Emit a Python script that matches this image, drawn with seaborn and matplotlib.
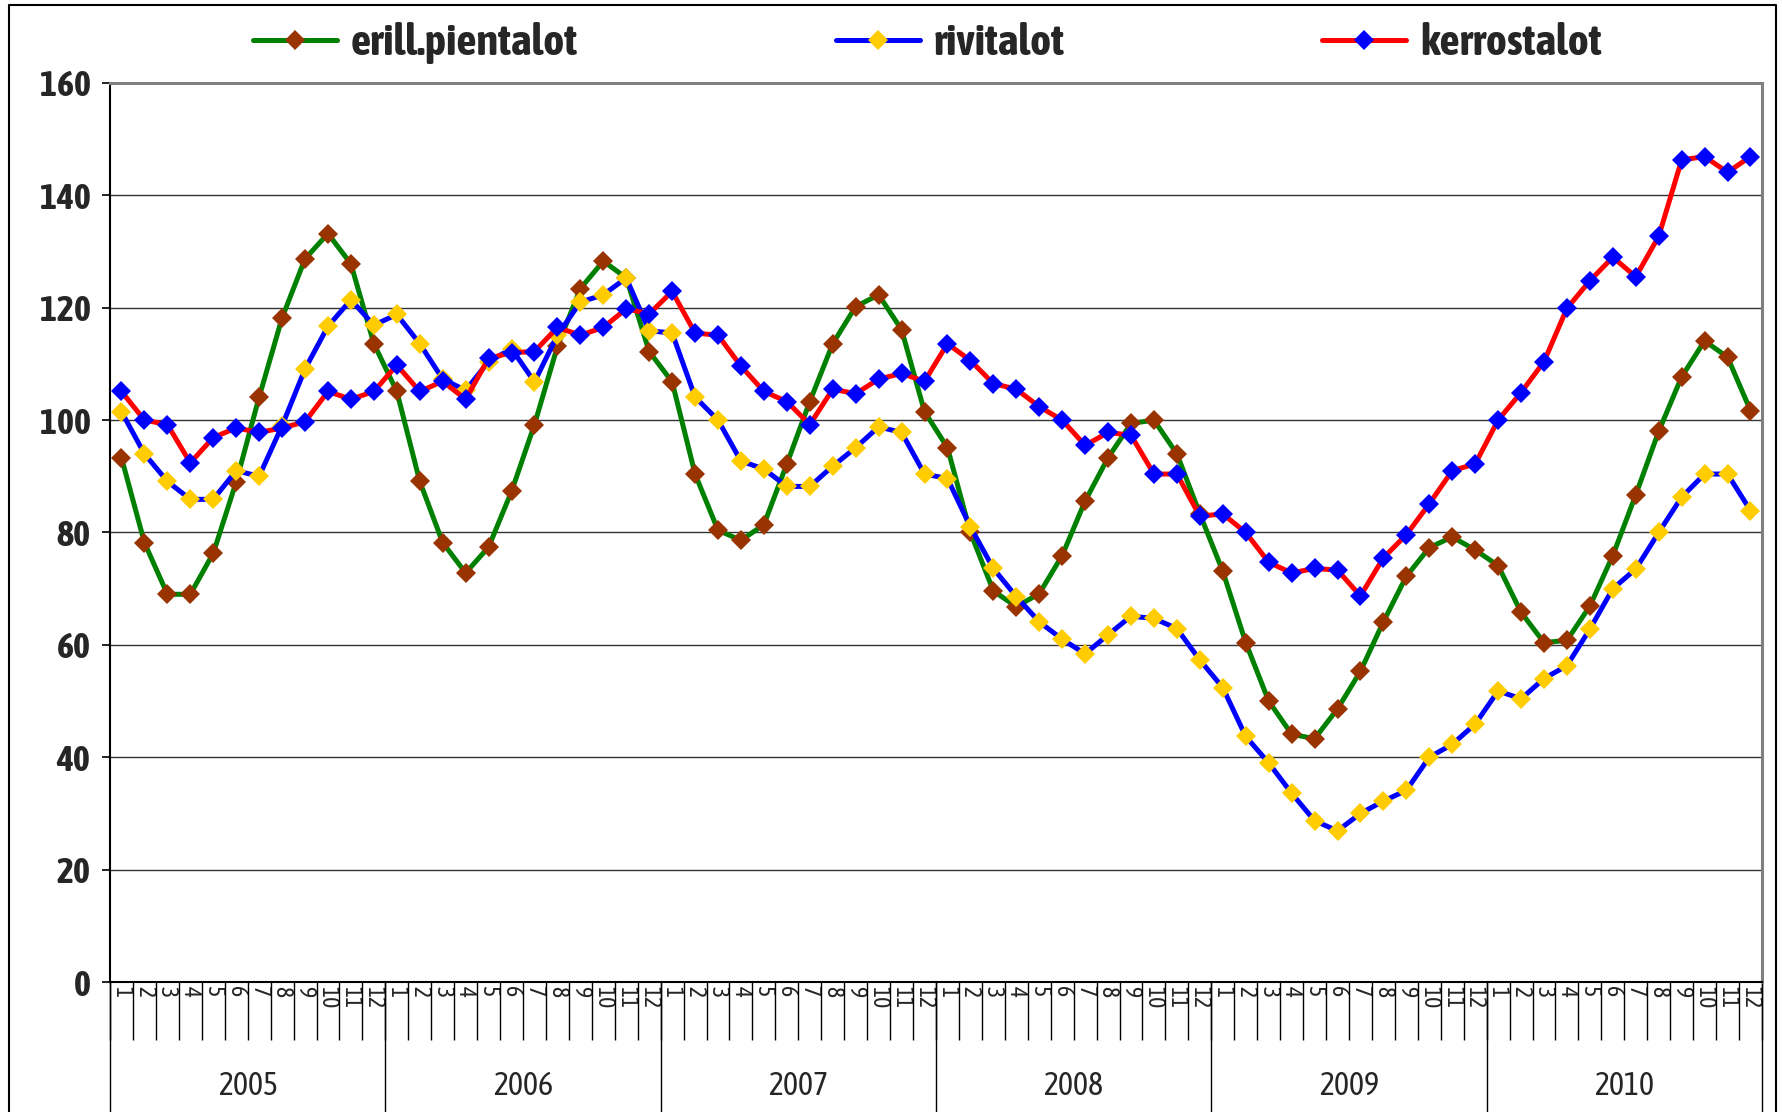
import matplotlib
matplotlib.use("Agg")
import matplotlib.pyplot as plt
from matplotlib.lines import Line2D
import pandas as pd
import seaborn as sns

years = ["2005", "2006", "2007", "2008", "2009", "2010"]
months = [str(m) for m in range(1, 13)]

erill = [93.3, 78.2, 69.0, 69.0, 76.3, 89.0, 104.1, 118.2, 128.7, 133.2, 127.8, 113.6,
         105.1, 89.1, 78.2, 72.8, 77.4, 87.3, 99.2, 113.1, 123.4, 128.3, 125.3, 112.2,
         106.8, 90.4, 80.4, 78.6, 81.4, 92.2, 103.3, 113.6, 120.2, 122.3, 116.1, 101.5,
         95.1, 80.0, 69.6, 66.8, 69.1, 75.9, 85.6, 93.3, 99.4, 100.0, 94.0, 83.3,
         73.1, 60.4, 50.0, 44.1, 43.3, 48.6, 55.3, 64.1, 72.2, 77.3, 79.2, 76.9,
         74.1, 65.8, 60.4, 60.8, 66.9, 75.9, 86.7, 98.0, 107.7, 114.1, 111.2, 101.7]
rivi = [101.5, 94.0, 89.1, 85.9, 85.9, 91.0, 90.0, 99.0, 109.1, 116.7, 121.4, 116.9,
        118.8, 113.6, 107.3, 105.3, 110.4, 112.7, 106.8, 115.1, 121.0, 122.3, 125.3, 115.9,
        115.5, 104.1, 100.0, 92.7, 91.3, 88.2, 88.2, 91.8, 95.1, 98.8, 97.8, 90.4,
        89.6, 81.0, 73.6, 68.6, 64.1, 61.0, 58.4, 61.8, 65.1, 64.7, 62.9, 57.3,
        52.4, 43.7, 39.0, 33.6, 28.7, 26.9, 30.0, 32.2, 34.1, 40.0, 42.3, 45.9,
        51.8, 50.4, 54.0, 56.3, 62.8, 70.0, 73.5, 80.0, 86.3, 90.4, 90.4, 83.9]
kerros = [105.1, 100.0, 99.2, 92.4, 96.9, 98.6, 97.8, 98.6, 99.7, 105.1, 103.7, 105.1,
          109.8, 105.1, 106.9, 103.7, 111.0, 112.0, 112.2, 116.5, 115.1, 116.5, 119.8, 118.9,
          122.9, 115.5, 115.1, 109.6, 105.1, 103.3, 99.2, 105.5, 104.7, 107.3, 108.3, 106.9,
          113.6, 110.6, 106.5, 105.5, 102.4, 100.0, 95.5, 97.8, 97.3, 90.4, 90.4, 82.9,
          83.3, 80.0, 74.7, 72.8, 73.6, 73.3, 68.7, 75.5, 79.6, 85.1, 91.0, 92.2,
          100.0, 104.9, 110.4, 119.9, 124.8, 129.0, 125.5, 132.7, 146.3, 146.9, 144.1, 146.9]

names = ["erill.pientalot", "rivitalot", "kerrostalot"]
line_colors = ["#008000", "#0000FF", "#FF0000"]
marker_colors = ["#993300", "#FFCC00", "#0000FF"]

n = len(years) * len(months)
df = pd.DataFrame({"idx": list(range(n)), names[0]: erill, names[1]: rivi, names[2]: kerros})

sns.set_theme(style="white")
# narrow face like the original Arial Narrow, falling back to Liberation Sans
plt.rcParams["font.family"] = ["Liberation Sans Narrow", "Asap Condensed", "Liberation Sans", "DejaVu Sans"]

fig = plt.figure(figsize=(17.83, 11.12), dpi=100)
ax = fig.add_axes([0.0617, 0.1169, 0.9265, 0.8085])

for name, lc, mc in zip(names, line_colors, marker_colors):
    sns.lineplot(data=df, x="idx", y=name, ax=ax, color=lc, lw=3.6, marker="D",
                 markersize=10, markerfacecolor=mc, markeredgewidth=0, label=name)

ax.set_xlim(-0.5, n - 0.5)
ax.set_ylim(0, 160)
ax.set_yticks(range(0, 161, 20))
ax.yaxis.grid(True, color="#333333", lw=1)
ax.set_axisbelow(True)
ax.set_xlabel("")
ax.set_ylabel("")

for s in ["top", "right"]:
    ax.spines[s].set_color("#808080")
    ax.spines[s].set_linewidth(2.2)
for s in ["left", "bottom"]:
    ax.spines[s].set_color("black")
    ax.spines[s].set_linewidth(1.5)

ax.tick_params(axis="y", left=True, length=6, width=1.2, color="black", pad=8)
for t in ax.get_yticklabels():
    t.set_fontsize(26)
    t.set_fontweight("bold")

# month labels + boundary ticks
ax.set_xticks(range(n))
ax.set_xticklabels(months * len(years), rotation=-90, fontsize=17, va="top")
ax.set_xticks([i - 0.5 for i in range(n + 1)], minor=True)
ax.tick_params(axis="x", which="major", length=0, pad=3)
ax.tick_params(axis="x", which="minor", bottom=True, length=42, width=1, color="black")

# year separators and labels
trans = ax.get_xaxis_transform()
for k, yr in enumerate(years):
    ax.plot([12 * k - 0.5] * 2, [0, -0.15], transform=trans, color="black", lw=1, clip_on=False)
    ax.text(12 * k + 5.5, -0.116, yr, transform=trans, ha="center", va="center", fontsize=23)
ax.plot([n - 0.5] * 2, [0, -0.15], transform=trans, color="black", lw=1, clip_on=False)

ax.get_legend().remove()
handles, labels = ax.get_legend_handles_labels()
fig.legend(handles, labels, loc="upper center", bbox_to_anchor=(0.52, 1.016), ncol=3,
           frameon=False, prop={"size": 32, "weight": "bold"}, columnspacing=5.8,
           handlelength=1.9, handletextpad=0.3)

# outer frame
fig.add_artist(Line2D([0.005, 0.005, 0.996, 0.996], [0, 0.9955, 0.9955, 0],
                      transform=fig.transFigure, color="black", lw=1.5))

fig.savefig("out.png", dpi=100)
